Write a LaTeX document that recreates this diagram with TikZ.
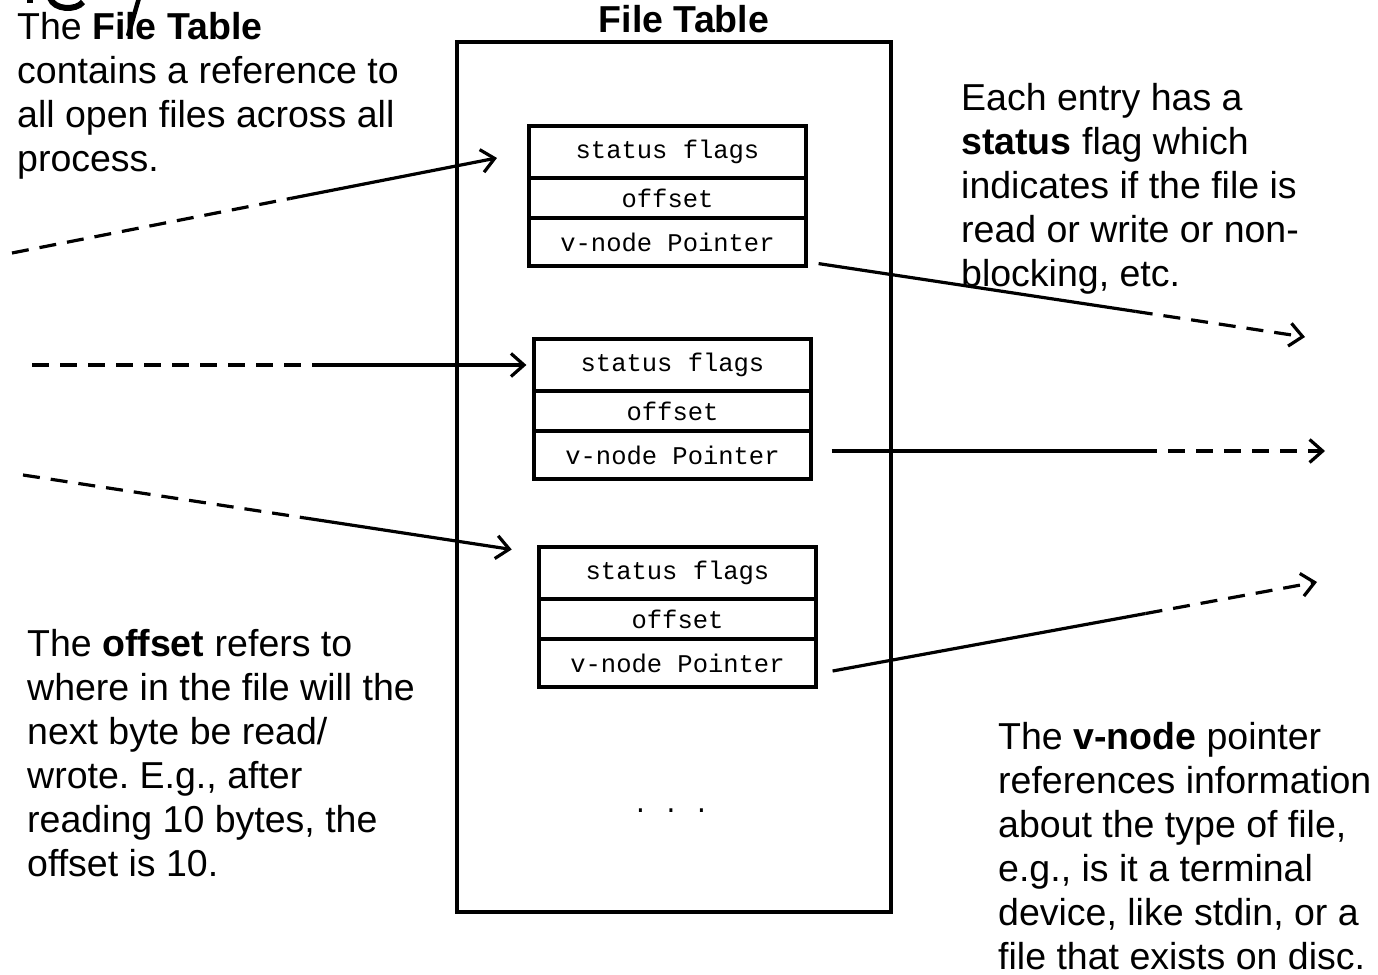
\documentclass[tikz,border=0pt]{standalone}
\usepackage{fontspec}
\setmainfont{Liberation Sans}
\setmonofont{Liberation Mono}
\usetikzlibrary{arrows.meta,calc}
\begin{document}
\begin{tikzpicture}[x=1pt,y=-1pt,
  note/.style={anchor=base west, inner sep=0pt, align=left,
    font=\fontsize{37.5}{44}\selectfont\frenchspacing},
  row/.style={draw, line width=3.2pt, minimum width=277pt, inner sep=0pt,
    font=\ttfamily\fontsize{25.5}{30}\selectfont},
  frame/.style={draw, line width=3.6pt, inner sep=0pt},
  link/.style={line width=3.2pt},
  tail/.style={line width=3.2pt, dash pattern=on 17pt off 11pt},
  head/.style={-{Straight Barb[length=13pt,width=23pt]}},
]
\useasboundingbox (0,0) rectangle (1378,974);

% remnants of a larger heading cut off by the top edge
\fill (27,-1) rectangle (33,3);
\draw[line width=6pt] (50,-2) .. controls (54,10) and (76,11) .. (83,2);
\draw[line width=4.5pt] (139,-2) -- (128,36);

% the file table itself
\node[frame, minimum width=434pt, minimum height=870pt] (table) at (674,477) {};
\node[anchor=base, inner sep=0pt, font=\bfseries\fontsize{37.5}{44}\selectfont] (title) at (684,33) {File Table};

% three entries, each made of three rows
\node[row, minimum height=52pt] (e1s) at (667.5,152) {status flags};
\node[row, minimum height=40pt] (e1o) at (667.5,198) {offset};
\node[row, minimum height=48pt] (e1v) at (667.5,242) {v-node Pointer};

\node[row, minimum height=52pt] (e2s) at (672.5,365) {status flags};
\node[row, minimum height=40pt] (e2o) at (672.5,411) {offset};
\node[row, minimum height=48pt] (e2v) at (672.5,455) {v-node Pointer};

\node[row, minimum height=52pt] (e3s) at (677.5,573) {status flags};
\node[row, minimum height=40pt] (e3o) at (677.5,619) {offset};
\node[row, minimum height=48pt] (e3v) at (677.5,663) {v-node Pointer};

\node[anchor=base, inner sep=0pt, font=\ttfamily\fontsize{25.5}{30}\selectfont] (more) at (671,812) {. . .};

% explanatory notes (anchored at the baseline of their last line)
\node[note] (noteA) at (17,171) {The \textbf{File Table}\\contains a reference to\\all open files across all\\process.};
\node[note] (noteB) at (961,286) {Each entry has a\\\textbf{status} flag which\\indicates if the file is\\read or write or non-\\blocking, etc.};
\node[note] (noteC) at (27,876) {The \textbf{offset} refers to\\where in the file will the\\next byte be read/\\wrote. E.g., after\\reading 10 bytes, the\\offset is 10.};
\node[note] (noteD) at (998,969) {The \textbf{v-node} pointer\\references information\\about the type of file,\\e.g., is it a terminal\\device, like stdin, or a\\file that exists on disc.};

% incoming references from the processes
\coordinate (src1) at (12,253);
\coordinate (src2) at (32,365);
\coordinate (src3) at (23,475);
\coordinate (in3) at ($(e3s.north west)+(0,8)$);
\coordinate (b1) at ($(src1)!0.54!(e1s.west)$);
\coordinate (b2) at ($(src2)!0.594!(e2s.west)$);
\coordinate (b3) at ($(src3)!0.5465!(in3)$);
\draw[tail] (src1) -- (b1);
\draw[link, head, shorten >=31pt] (b1) -- (e1s.west);
\draw[tail] (src2) -- (b2);
\draw[link, head, shorten >=6pt] (b2) -- (e2s.west);
\draw[tail] (src3) -- (b3);
\draw[link, head, shorten >=26pt] (b3) -- (in3);

% outgoing v-node pointers
\coordinate (o1) at ($(e1v.south east)+(11,-4)$);
\coordinate (o2) at ($(e2v.east)+(19,-4)$);
\coordinate (o3) at ($(e3v.east)+(15,8)$);
\coordinate (dst1) at (1305,337);
\coordinate (dst2) at (1325,451);
\coordinate (dst3) at (1317,582);
\coordinate (b4) at ($(o1)!0.652!(dst1)$);
\coordinate (b5) at ($(o2)!0.626!(dst2)$);
\coordinate (b6) at ($(o3)!0.646!(dst3)$);
\draw[link] (o1) -- (b4);
\draw[tail, head] (b4) -- (dst1);
\draw[link] (o2) -- (b5);
\draw[tail, head] (b5) -- (dst2);
\draw[link] (o3) -- (b6);
\draw[tail, head] (b6) -- (dst3);
\end{tikzpicture}
\end{document}
